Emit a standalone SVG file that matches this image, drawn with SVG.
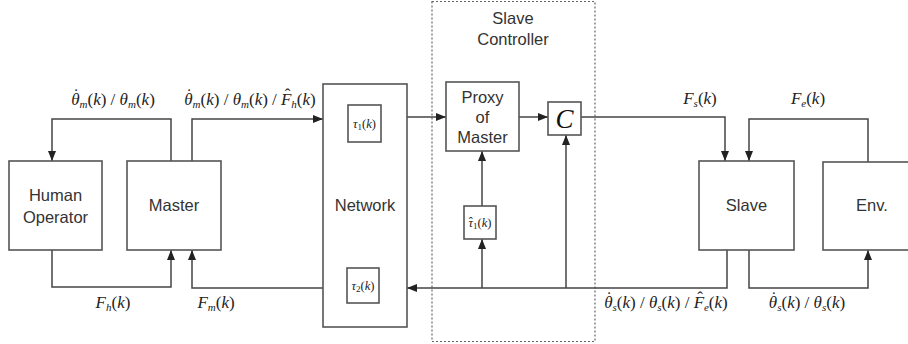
<svg xmlns="http://www.w3.org/2000/svg" width="908" height="344" viewBox="0 0 908 344">
<defs>
<marker id="ah" markerWidth="10" markerHeight="8" refX="10" refY="4" orient="auto" markerUnits="userSpaceOnUse">
<path d="M0,0 L10,4 L0,8 Z" fill="#222"/>
</marker>
<style>
.box{fill:#fff;stroke:#555;stroke-width:1.6}
.lbl{font-family:"Liberation Sans",Arial,sans-serif;font-size:16.5px;fill:#333;text-anchor:middle}
.m{font-family:"Liberation Serif","Times New Roman",serif;font-size:17px;font-style:italic;fill:#222;text-anchor:middle}
.n{font-style:normal}
.s{font-size:11px}
.t{font-family:"Liberation Serif","Times New Roman",serif;font-size:12.5px;font-style:italic;fill:#222;text-anchor:middle}
.ts{font-size:9px;font-style:normal}
.c{fill:none;stroke:#444;stroke-width:1.5}
.a{marker-end:url(#ah)}
</style>
</defs>
<rect width="908" height="344" fill="#fff"/>

<g id="slave-controller">
<rect x="432" y="1.5" width="163" height="340" fill="none" stroke="#666" stroke-width="1.2" stroke-dasharray="2,2"/>
<text class="lbl" x="513" y="24">Slave</text>
<text class="lbl" x="513" y="45">Controller</text>
</g>

<g id="connectors">
<path class="c a" d="M171,161 V119 H52 V161"/>
<path class="c a" d="M192,161 V119 H323"/>
<path class="c a" d="M407,117 H446"/>
<path class="c a" d="M519,117 H548"/>
<path class="c a" d="M581,117 H725 V161"/>
<path class="c a" d="M868,162 V119 H749 V161"/>
<path class="c a" d="M727,250 V288 H407"/>
<path class="c a" d="M482,288 V239"/>
<path class="c a" d="M482,206 V151"/>
<path class="c a" d="M566,288 V135"/>
<path class="c a" d="M749,250 V288 H868 V250"/>
<path class="c a" d="M52,250 V287 H171 V250"/>
<path class="c a" d="M323,288 H192 V250"/>
</g>

<g id="human-operator">
<rect class="box" x="9" y="161" width="93" height="89"/>
<text class="lbl" x="55.5" y="201">Human</text>
<text class="lbl" x="55.5" y="223">Operator</text>
</g>
<g id="master">
<rect class="box" x="127" y="161" width="94" height="89"/>
<text class="lbl" x="174" y="211">Master</text>
</g>
<g id="network">
<rect class="box" x="323" y="84" width="84" height="243"/>
<text class="lbl" x="365" y="211">Network</text>
</g>
<g id="tau1">
<rect class="box" x="348" y="105" width="33" height="37"/>
<text class="t" x="364.5" y="128">τ<tspan class="ts" dy="2">1</tspan><tspan dy="-2" class="n">(</tspan>k<tspan class="n">)</tspan></text>
</g>
<g id="tau2">
<rect class="box" x="347" y="268" width="32" height="35"/>
<text class="t" x="363" y="290">τ<tspan class="ts" dy="2">2</tspan><tspan dy="-2" class="n">(</tspan>k<tspan class="n">)</tspan></text>
</g>
<g id="proxy">
<rect class="box" x="446" y="82" width="73" height="69"/>
<text class="lbl" x="482.5" y="103">Proxy</text>
<text class="lbl" x="482.5" y="123">of</text>
<text class="lbl" x="482.5" y="143">Master</text>
</g>
<g id="tau1-hat">
<rect class="box" x="464" y="206" width="32" height="33"/>
<text class="t" x="480" y="227">τ<tspan class="n" dx="-4.3" dy="-1">ˆ</tspan><tspan class="ts" dy="3">1</tspan><tspan dy="-2" class="n">(</tspan>k<tspan class="n">)</tspan></text>
</g>
<g id="controller-c">
<rect class="box" x="548" y="102" width="33" height="33"/>
<text x="564.5" y="128" font-family="Liberation Serif, serif" font-style="italic" font-size="27" fill="#111" text-anchor="middle">C</text>
</g>
<g id="slave">
<rect class="box" x="699" y="161" width="95" height="89"/>
<text class="lbl" x="746.5" y="211">Slave</text>
</g>
<g id="env">
<rect class="box" x="823" y="162" width="95" height="88"/>
<text class="lbl" x="872" y="211">Env.</text>
</g>

<g id="labels">
<text class="m" x="113" y="105">θ<tspan class="n" dx="-6.3" dy="-5">˙</tspan><tspan class="s" dx="0.6" dy="8">m</tspan><tspan class="n" dy="-3">(</tspan>k<tspan class="n">) / </tspan>θ<tspan class="s" dy="3">m</tspan><tspan class="n" dy="-3">(</tspan>k<tspan class="n">)</tspan></text>
<text class="m" x="250" y="105">θ<tspan class="n" dx="-6.3" dy="-5">˙</tspan><tspan class="s" dx="0.6" dy="8">m</tspan><tspan class="n" dy="-3">(</tspan>k<tspan class="n">) / </tspan>θ<tspan class="s" dy="3">m</tspan><tspan class="n" dy="-3">(</tspan>k<tspan class="n">) / </tspan>F<tspan class="n" dx="-6.8" dy="-5">ˆ</tspan><tspan class="s" dx="1" dy="8">h</tspan><tspan class="n" dy="-3">(</tspan>k<tspan class="n">)</tspan></text>
<text class="m" x="700" y="104">F<tspan class="s" dy="3">s</tspan><tspan class="n" dy="-3">(</tspan>k<tspan class="n">)</tspan></text>
<text class="m" x="808" y="104">F<tspan class="s" dy="3">e</tspan><tspan class="n" dy="-3">(</tspan>k<tspan class="n">)</tspan></text>
<text class="m" x="113" y="308">F<tspan class="s" dy="3">h</tspan><tspan class="n" dy="-3">(</tspan>k<tspan class="n">)</tspan></text>
<text class="m" x="216" y="308">F<tspan class="s" dy="3">m</tspan><tspan class="n" dy="-3">(</tspan>k<tspan class="n">)</tspan></text>
<text class="m" x="666" y="308">θ<tspan class="n" dx="-6.3" dy="-5">˙</tspan><tspan class="s" dx="0.6" dy="8">s</tspan><tspan class="n" dy="-3">(</tspan>k<tspan class="n">) / </tspan>θ<tspan class="s" dy="3">s</tspan><tspan class="n" dy="-3">(</tspan>k<tspan class="n">) / </tspan>F<tspan class="n" dx="-6.8" dy="-5">ˆ</tspan><tspan class="s" dx="1" dy="8">e</tspan><tspan class="n" dy="-3">(</tspan>k<tspan class="n">)</tspan></text>
<text class="m" x="807" y="308">θ<tspan class="n" dx="-6.3" dy="-5">˙</tspan><tspan class="s" dx="0.6" dy="8">s</tspan><tspan class="n" dy="-3">(</tspan>k<tspan class="n">) / </tspan>θ<tspan class="s" dy="3">s</tspan><tspan class="n" dy="-3">(</tspan>k<tspan class="n">)</tspan></text>
</g>
</svg>
